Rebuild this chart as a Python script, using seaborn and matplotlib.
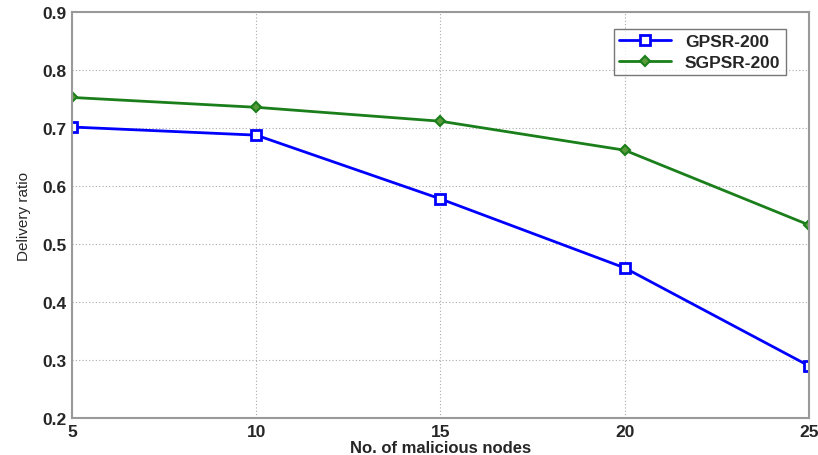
import matplotlib
matplotlib.use("Agg")
import matplotlib.pyplot as plt
import matplotlib.colors as mcolors
import seaborn as sns
import pandas as pd

nodes = [5, 10, 15, 20, 25]
gpsr = [0.702, 0.688, 0.578, 0.459, 0.290]
sgpsr = [0.753, 0.736, 0.712, 0.662, 0.533]
series_names = ["GPSR-200", "SGPSR-200"]
colors = {"GPSR-200": "#0000ff", "SGPSR-200": "#1a7f1a"}

sns.set_style("white")
plt.rcParams['font.family'] = ['Liberation Sans', 'DejaVu Sans']

df = pd.DataFrame({
    "nodes": nodes * 2,
    "ratio": gpsr + sgpsr,
    "series": [series_names[0]] * len(nodes) + [series_names[1]] * len(nodes),
})

fig = plt.figure(figsize=(8.18, 4.56), dpi=100)
ax = fig.add_axes([0.088, 0.081, 0.901, 0.890])

sns.lineplot(data=df, x="nodes", y="ratio", hue="series", style="series",
             palette=colors,
             markers={"GPSR-200": "s", "SGPSR-200": "D"}, dashes=False,
             linewidth=2, ax=ax, legend=False)

def style_line(line):
    c = mcolors.to_hex(line.get_color())
    if c == "#0000ff":
        line.set_marker("s")
        line.set_markersize(6.5)
        line.set_markerfacecolor("white")
        line.set_markeredgecolor(c)
        line.set_markeredgewidth(2)
    else:
        line.set_marker("D")
        line.set_markersize(5)
        line.set_markerfacecolor("#5a9a3a")
        line.set_markeredgecolor(c)
        line.set_markeredgewidth(1.5)
    line.set_linestyle("-")
    line.set_linewidth(2)

for line in ax.lines:
    style_line(line)

ax.set_xlim(5, 25)
ax.set_ylim(0.2, 0.9)
ax.set_xticks(nodes)
ax.set_yticks([0.2, 0.3, 0.4, 0.5, 0.6, 0.7, 0.8, 0.9])
ax.set_yticklabels(["0.2", "0.3", "0.4", "0.5", "0.6", "0.7", "0.8", "0.9"])
ax.tick_params(direction="in", length=6, width=1, color="#888888",
               labelsize=12.5, pad=4)
for lab in ax.get_xticklabels() + ax.get_yticklabels():
    lab.set_fontweight("bold")
ax.grid(True, linestyle=(0, (1, 2)), color="#aaaaaa", linewidth=0.8)
for sp in ax.spines.values():
    sp.set_color("#999999")
    sp.set_linewidth(1.5)

ax.set_xlabel("No. of malicious nodes", fontsize=12, fontweight="bold", labelpad=1)
ax.set_ylabel("Delivery ratio", fontsize=11, labelpad=8)

handles = ax.lines[:2]
leg = ax.legend(handles, series_names, loc="upper right",
                bbox_to_anchor=(0.98, 0.98), fontsize=12.5,
                frameon=True, fancybox=False, edgecolor="#555555",
                handlelength=3, borderpad=0.3, labelspacing=0.3)
for t in leg.get_texts():
    t.set_fontweight("bold")
leg.get_frame().set_linewidth(1)

fig.savefig("out.png", dpi=100)
